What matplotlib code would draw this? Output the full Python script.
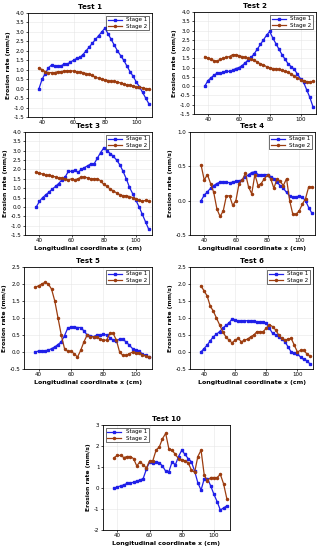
import numpy as np
import matplotlib
matplotlib.use('Agg')
import matplotlib.pyplot as plt

x = np.arange(38, 110, 2)

# Test 1
t1_s1 = [0.0, 0.5, 0.8, 1.1, 1.25, 1.2, 1.2, 1.2, 1.3, 1.3, 1.4, 1.5, 1.6, 1.65, 1.8, 2.0,
         2.2, 2.4, 2.6, 2.8, 3.0, 3.2, 2.9, 2.6, 2.3, 2.0, 1.75, 1.5, 1.2, 0.9, 0.65, 0.35,
         0.1, -0.2, -0.5, -0.8]
t1_s2 = [1.1, 1.0, 0.9, 0.85, 0.85, 0.85, 0.9, 0.9, 0.93, 0.95, 0.95, 0.93, 0.9, 0.88, 0.85,
         0.8, 0.75, 0.7, 0.6, 0.55, 0.5, 0.45, 0.43, 0.4, 0.38, 0.35, 0.3, 0.25, 0.2, 0.17,
         0.15, 0.1, 0.07, 0.05, 0.0, -0.02]
# Test 2
t2_s1 = [0.0, 0.3, 0.45, 0.6, 0.7, 0.7, 0.75, 0.8, 0.8, 0.85, 0.95, 1.0, 1.1, 1.25, 1.4,
         1.55, 1.75, 2.0, 2.25, 2.5, 2.75, 2.95, 2.6, 2.3, 2.0, 1.7, 1.45, 1.2, 1.05, 0.9, 0.65,
         0.4, 0.2, -0.2, -0.6, -1.1]
t2_s2 = [1.6, 1.5, 1.45, 1.38, 1.35, 1.45, 1.5, 1.55, 1.6, 1.7, 1.7, 1.65, 1.6, 1.55, 1.5,
         1.45, 1.4, 1.3, 1.2, 1.15, 1.05, 1.0, 0.95, 0.95, 0.9, 0.85, 0.8, 0.75, 0.65, 0.55,
         0.45, 0.35, 0.3, 0.25, 0.22, 0.27]
# Test 3
t3_s1 = [0.0, 0.3, 0.5, 0.65, 0.8, 0.95, 1.1, 1.25, 1.45, 1.6, 1.9, 1.9, 1.95, 1.85, 2.0, 2.1,
         2.2, 2.3, 2.3, 2.6, 2.9, 3.15, 3.0, 2.85, 2.7, 2.5, 2.25, 1.9, 1.5, 1.05, 0.7, 0.35,
         0.0, -0.4, -0.8, -1.2]
t3_s2 = [1.85, 1.8, 1.75, 1.7, 1.68, 1.65, 1.6, 1.55, 1.55, 1.5, 1.45, 1.5, 1.45, 1.5, 1.6,
         1.6, 1.55, 1.5, 1.5, 1.5, 1.4, 1.2, 1.1, 0.95, 0.85, 0.75, 0.65, 0.6, 0.6, 0.55, 0.5,
         0.4, 0.35, 0.3, 0.35, 0.3]
# Test 4
t4_s1 = [0.0, 0.08, 0.13, 0.18, 0.22, 0.25, 0.27, 0.27, 0.27, 0.26, 0.27, 0.28, 0.29, 0.3,
         0.34, 0.38, 0.41, 0.42, 0.38, 0.37, 0.38, 0.38, 0.35, 0.32, 0.27, 0.22, 0.18, 0.12,
         0.07, 0.05, 0.05, 0.07, 0.05, 0.0, -0.1, -0.18]
t4_s2 = [0.52, 0.3, 0.38, 0.25, 0.12, -0.12, -0.23, -0.15, 0.07, 0.07, -0.07, 0.0, 0.25, 0.3,
         0.4, 0.2, 0.1, 0.38, 0.22, 0.25, 0.32, 0.37, 0.32, 0.18, 0.32, 0.28, 0.22, 0.32, 0.0,
         -0.2, -0.2, -0.15, -0.05, 0.03, 0.2, 0.2]
# Test 5
t5_s1 = [0.0, 0.03, 0.04, 0.04, 0.05, 0.1, 0.15, 0.22, 0.3, 0.48, 0.7, 0.73, 0.73, 0.72, 0.72,
         0.62, 0.5, 0.48, 0.45, 0.5, 0.5, 0.52, 0.5, 0.42, 0.35, 0.33, 0.38, 0.37, 0.3, 0.2,
         0.1, 0.05, 0.02, -0.05, -0.1, -0.15]
t5_s2 = [1.9, 1.95, 2.0, 2.05, 2.0, 1.85, 1.5, 1.0, 0.5, 0.1, 0.02, 0.02, -0.05, -0.15, 0.05,
         0.3, 0.5, 0.45, 0.45, 0.45, 0.38, 0.35, 0.35, 0.55, 0.55, 0.35, 0.0, -0.1, -0.1, -0.05,
         0.0, -0.02, -0.02, -0.08, -0.12, -0.15]
# Test 6
t6_s1 = [0.0, 0.1, 0.2, 0.33, 0.45, 0.52, 0.6, 0.7, 0.78, 0.85, 0.97, 0.95, 0.9, 0.92, 0.92,
         0.92, 0.92, 0.9, 0.88, 0.88, 0.87, 0.85, 0.7, 0.55, 0.5, 0.45, 0.38, 0.3, 0.15, 0.0,
         -0.03, -0.05, -0.15, -0.22, -0.25, -0.35]
t6_s2 = [1.95, 1.8, 1.65, 1.35, 1.2, 1.0, 0.8, 0.6, 0.45, 0.35, 0.27, 0.35, 0.4, 0.3, 0.35,
         0.38, 0.45, 0.5, 0.6, 0.6, 0.6, 0.7, 0.8, 0.75, 0.65, 0.5, 0.4, 0.35, 0.38, 0.4, 0.2,
         0.0, 0.05, 0.05, -0.05, -0.12]
# Test 10
t10_s1 = [0.0, 0.05, 0.1, 0.15, 0.22, 0.22, 0.28, 0.33, 0.38, 0.45, 0.9, 1.25, 1.2, 1.25,
          1.2, 1.05, 0.8, 0.78, 1.25, 1.1, 1.5, 1.8, 1.6, 1.4, 1.25, 0.8, 0.25, -0.1, 0.45,
          0.45, 0.1, -0.3, -0.65, -1.05, -0.95, -0.85]
t10_s2 = [1.45, 1.55, 1.55, 1.45, 1.5, 1.5, 1.4, 1.05, 1.25, 1.1, 0.95, 1.3, 1.3, 1.8, 1.95,
          2.35, 2.6, 1.85, 1.8, 1.6, 1.4, 1.35, 1.3, 1.2, 0.85, 0.75, 1.5, 1.8, 0.6, 0.35, 0.5,
          0.5, 0.5, 0.65, 0.2, -0.5]

fig = plt.figure(figsize=(3.18, 5.5), dpi=100)

# name, s1, s2, rect(px: l, t, r, b), ylim, yticks, xlabel?, legend loc
panels = [
    ('Test 1', t1_s1, t1_s2, (28, 13, 152, 117), (-1.5, 4.0), np.arange(-1.5, 4.01, 0.5), False, 'upper right'),
    ('Test 2', t2_s1, t2_s2, (194, 12, 316, 114), (-1.5, 4.0), np.arange(-1.5, 4.01, 0.5), False, 'upper right'),
    ('Test 3', t3_s1, t3_s2, (25, 132, 152, 235), (-1.5, 4.0), np.arange(-1.5, 4.01, 0.5), True, 'upper right'),
    ('Test 4', t4_s1, t4_s2, (190, 132, 315, 235), (-0.5, 1.0), np.arange(-0.5, 1.01, 0.5), True, 'upper right'),
    ('Test 5', t5_s1, t5_s2, (24, 267, 152, 369), (-0.5, 2.5), np.arange(-0.5, 2.51, 0.5), True, 'upper right'),
    ('Test 6', t6_s1, t6_s2, (190, 267, 313, 369), (-0.5, 2.5), np.arange(-0.5, 2.51, 0.5), True, 'upper right'),
    ('Test 10', t10_s1, t10_s2, (103, 425, 230, 530), (-2, 3), np.arange(-2, 3.01, 1), True, 'upper left'),
]

W, H = 318, 550
for name, s1, s2, (l, t, r, b), ylim, yt, has_xl, loc in panels:
    ax = fig.add_axes([l / W, 1 - b / H, (r - l) / W, (b - t) / H])
    ax.plot(x, s1, color='#1f1fe8', marker='s', markersize=1.6, lw=0.9, label='Stage 1')
    ax.plot(x, s2, color='#9c3d10', marker='o', markersize=1.5, lw=0.9, label='Stage 2')
    ax.set_xlim(31, 110)
    ax.set_ylim(*ylim)
    ax.set_xticks([40, 60, 80, 100])
    ax.set_yticks(yt)
    if ylim[0] == -2:
        ax.set_yticklabels([f'{v:.0f}' for v in yt])
    else:
        ax.set_yticklabels([f'{v:.1f}' for v in yt])
    ax.tick_params(labelsize=4, length=1.5, width=0.5, pad=1)
    ax.grid(True, color='#e6e6e6', lw=0.4)
    for sp in ax.spines.values():
        sp.set_linewidth(0.6)
    ax.set_title(name, fontsize=5, fontweight='bold', pad=3)
    ax.set_ylabel('Erosion rate (mm/s)', fontsize=4.3, fontweight='bold', labelpad=2)
    if has_xl:
        ax.set_xlabel('Longitudinal coordinate x (cm)', fontsize=4.5, fontweight='bold', labelpad=2)
    leg = ax.legend(loc=loc, fontsize=4, frameon=True, handlelength=2.5,
                    borderpad=0.3, labelspacing=0.2, fancybox=False)
    leg.get_frame().set_edgecolor('black')
    leg.get_frame().set_linewidth(0.5)

fig.savefig('out.png', dpi=100)
